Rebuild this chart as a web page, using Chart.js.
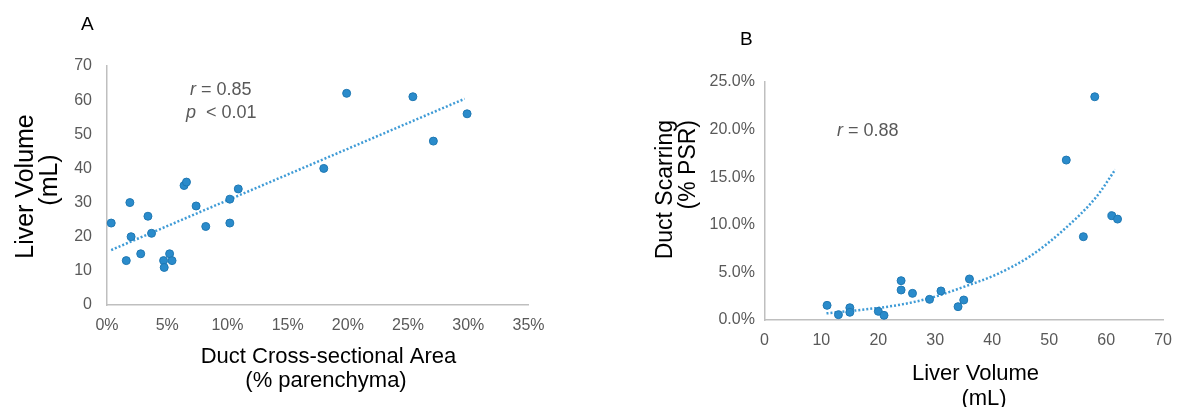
<!DOCTYPE html>
<html>
<head>
<meta charset="utf-8">
<script src="https://cdn.jsdelivr.net/npm/chart.js@4.4.1/dist/chart.umd.min.js"></script>
<style>
  body { margin: 0; background: #fff; }
  #wrap { position: relative; width: 1183px; height: 407px; overflow: hidden; }
  canvas { position: absolute; top: 0; }
</style>
</head>
<body>
<div id="wrap">
  <canvas id="chartA" width="580" height="407" style="left:0px"></canvas>
  <canvas id="chartB" width="583" height="407" style="left:600px"></canvas>
</div>
<script>
// panel A: duct cross-sectional area (% parenchyma) vs liver volume (mL)
var ductArea = [19.9, 25.4, 29.9, 27.1, 18.0, 6.4, 6.6, 10.9, 10.2, 0.35, 1.9, 3.4, 2.0, 3.7, 1.6, 2.8, 4.7, 4.75, 5.2, 5.4, 7.4, 8.2, 10.2]
var liverVolA = [62, 61, 56, 48, 40, 35, 36, 34, 31, 24, 30, 26, 20, 21, 13, 15, 13, 11, 15, 13, 29, 23, 24]
var trendAX = [0.35, 29.7]
var trendAY = [16.1, 60.4]
var ticksAX = [0, 5, 10, 15, 20, 25, 30, 35]
var ticksAY = [0, 10, 20, 30, 40, 50, 60, 70]

// panel B: liver volume (mL) vs duct scarring (% PSR)
var liverVolB = [11, 13, 15, 15, 20, 21, 24, 24, 26, 29, 31, 34, 35, 36, 53, 56, 61, 62, 58]
var scarring = [1.54, 0.56, 1.29, 0.81, 0.91, 0.49, 4.13, 3.15, 2.80, 2.17, 3.05, 1.40, 2.10, 4.31, 16.8, 8.75, 10.96, 10.6, 23.45]
var trendBX = [10.9, 17.8, 23.6, 29.3, 35.1, 40.9, 46.7, 52.5, 58.3, 61.6]
var trendBY = [0.70, 1.12, 1.58, 2.34, 3.50, 4.83, 6.72, 9.45, 12.95, 15.8]
var ticksBX = [0, 10, 20, 30, 40, 50, 60, 70]
var ticksBY = [0, 5, 10, 15, 20, 25]

var FONT = "'Liberation Sans', Arial, sans-serif"
var dotFill = '#2a8bcb'
var dotEdge = '#1f78b3'
var trendColor = '#3f9bd6'
var axisGray = '#bfbfbf'
var tickGray = '#595959'

Chart.defaults.font.family = FONT
Chart.defaults.color = tickGray

function pares(xs, ys){
    var out = []
    xs.forEach(function(x, i){ out.push({x: x, y: ys[i]}) })
    return out
}

function fixTicks(valores){
    return function(scale){
        scale.ticks = valores.map(function(v){ return {value: v} })
    }
}

// draws free text (titles, letters, r / p annotations)
function textosPlugin(textos){
    return {
        id: 'textos',
        afterDraw: function(chart){
            var c = chart.ctx
            textos.forEach(function(t){
                c.save()
                c.fillStyle = t.color
                c.textBaseline = 'alphabetic'
                c.translate(t.x, t.y)
                if (t.rot) c.rotate(-Math.PI / 2)
                var x = 0
                if (t.parts) {
                    c.textAlign = 'left'
                    t.parts.forEach(function(p){
                        c.font = (p.italic ? 'italic ' : '') + t.size + 'px ' + FONT
                        c.fillText(p.s, x, 0)
                        x += c.measureText(p.s).width
                    })
                } else {
                    c.font = t.size + 'px ' + FONT
                    c.textAlign = t.align || 'left'
                    c.fillText(t.s, 0, 0)
                }
                c.restore()
            })
        }
    }
}

function eixo(min, max, step, lista, largura, altura, pad, fmt){
    var s = {
        type: 'linear',
        min: min,
        max: max,
        grid: {display: false, drawTicks: false},
        border: {display: true, color: axisGray, width: 1.5},
        ticks: {
            stepSize: step,
            padding: pad,
            color: tickGray,
            font: {size: 16},
            callback: fmt
        },
        afterBuildTicks: fixTicks(lista)
    }
    if (largura) s.afterFit = function(scale){ scale.width = largura }
    if (altura) s.afterFit = function(scale){ scale.height = altura }
    return s
}

function pontos(dados){
    return {
        type: 'scatter',
        data: dados,
        backgroundColor: dotFill,
        borderColor: dotEdge,
        borderWidth: 1,
        pointRadius: 4,
        pointHoverRadius: 4,
        clip: false,
        order: 1
    }
}

function tendencia(dados){
    return {
        type: 'line',
        data: dados,
        showLine: true,
        borderColor: trendColor,
        borderWidth: 2.5,
        borderDash: [2, 2],
        borderCapStyle: 'butt',
        pointRadius: 0,
        fill: false,
        cubicInterpolationMode: 'monotone',
        clip: false,
        order: 2
    }
}

var chartA = new Chart(document.getElementById('chartA').getContext('2d'), {
    type: 'scatter',
    data: {
        datasets: [pontos(pares(ductArea, liverVolA)), tendencia(pares(trendAX, trendAY))]
    },
    options: {
        responsive: false,
        animation: false,
        devicePixelRatio: 1,
        layout: {padding: {left: 0, top: 66, right: 51.5, bottom: 0}},
        plugins: {legend: {display: false}, tooltip: {enabled: false}},
        scales: {
            x: eixo(0, 35, 5, ticksAX, null, 102, 11, function(v){ return v + '%' }),
            y: eixo(0, 70, 10, ticksAY, 107, null, 15, function(v){ return v })
        }
    },
    plugins: [textosPlugin([
        {s: 'A', x: 81, y: 30, size: 19, color: '#000'},
        {parts: [{s: 'r', italic: true}, {s: ' = 0.85'}], x: 190, y: 95, size: 18, color: tickGray},
        {parts: [{s: 'p', italic: true}, {s: '  < 0.01'}], x: 186, y: 118, size: 18, color: tickGray},
        {s: 'Duct Cross-sectional Area', x: 328.5, y: 362.5, size: 22, color: '#000', align: 'center'},
        {s: '(% parenchyma)', x: 326, y: 387, size: 22, color: '#000', align: 'center'},
        {s: 'Liver Volume', x: 33, y: 186.5, size: 25, color: '#000', align: 'center', rot: true},
        {s: '(mL)', x: 57, y: 180, size: 25, color: '#000', align: 'center', rot: true}
    ])]
})

var chartB = new Chart(document.getElementById('chartB').getContext('2d'), {
    type: 'scatter',
    data: {
        datasets: [pontos(pares(liverVolB, scarring)), tendencia(pares(trendBX, trendBY))]
    },
    options: {
        responsive: false,
        animation: false,
        devicePixelRatio: 1,
        layout: {padding: {left: 0, top: 82, right: 16, bottom: 0}},
        plugins: {legend: {display: false}, tooltip: {enabled: false}},
        scales: {
            x: eixo(0, 70, 10, ticksBX, null, 87, 11, function(v){ return v }),
            y: eixo(0, 25, 5, ticksBY, 164.4, null, 9.5, function(v){ return v.toFixed(1) + '%' })
        }
    },
    plugins: [textosPlugin([
        {s: 'B', x: 140, y: 45, size: 19, color: '#000'},
        {parts: [{s: 'r', italic: true}, {s: ' = 0.88'}], x: 237, y: 136, size: 18, color: tickGray},
        {s: 'Liver Volume', x: 375.5, y: 380, size: 22, color: '#000', align: 'center'},
        {s: '(mL)', x: 384, y: 405, size: 22, color: '#000', align: 'center'},
        {s: 'Duct Scarring', x: 72, y: 120, size: 23, color: '#000', align: 'right', rot: true},
        {s: '(% PSR)', x: 95, y: 120, size: 23, color: '#000', align: 'right', rot: true}
    ])]
})
</script>
</body>
</html>
